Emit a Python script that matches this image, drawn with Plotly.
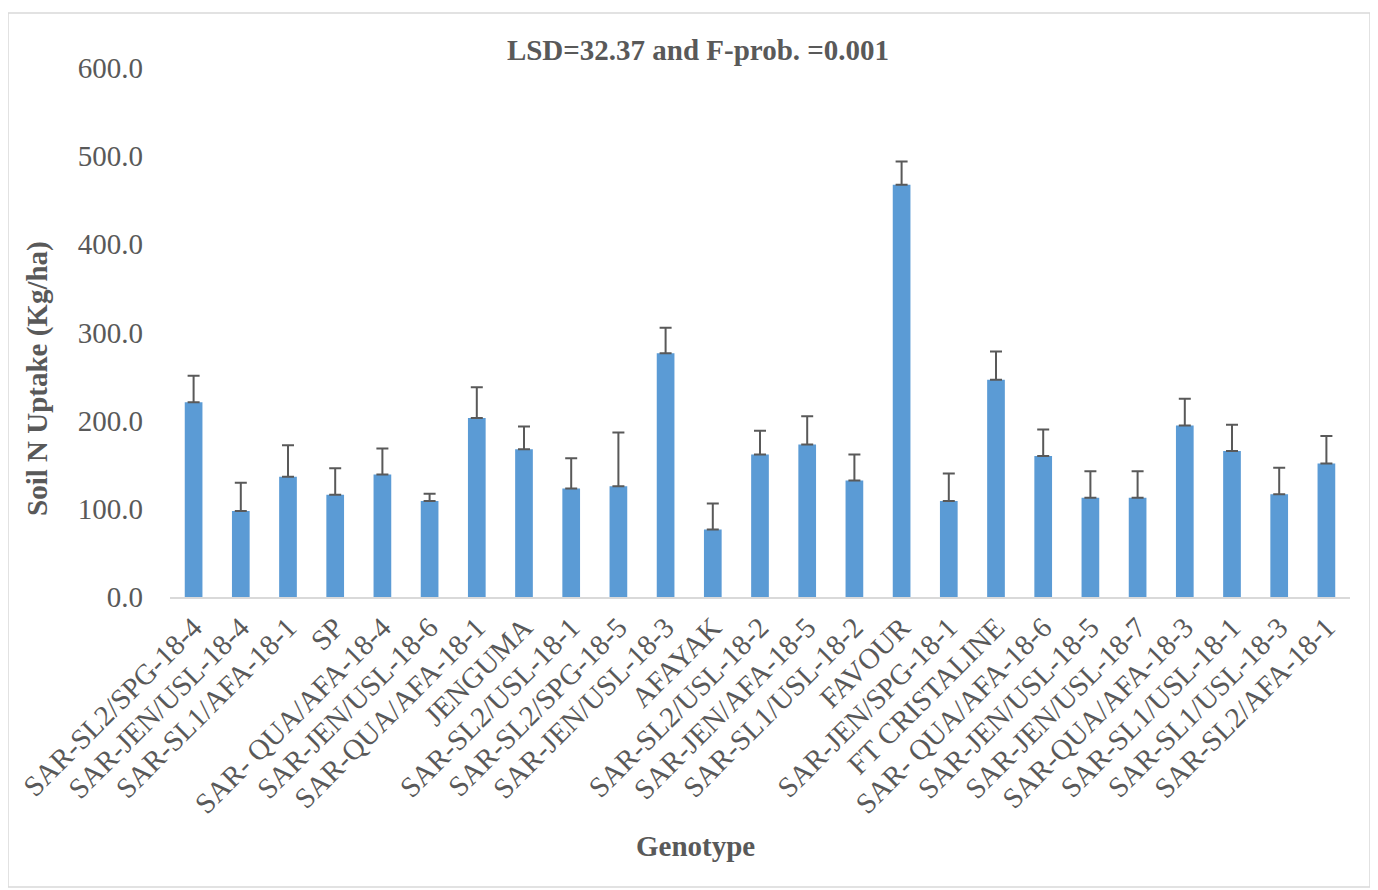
import plotly.graph_objects as go

genotypes = [
    "SAR-SL2/SPG-18-4", "SAR-JEN/USL-18-4", "SAR-SL1/AFA-18-1", "SP",
    "SAR- QUA/AFA-18-4", "SAR-JEN/USL-18-6", "SAR-QUA/AFA-18-1", "JENGUMA",
    "SAR-SL2/USL-18-1", "SAR-SL2/SPG-18-5", "SAR-JEN/USL-18-3", "AFAYAK",
    "SAR-SL2/USL-18-2", "SAR-JEN/AFA-18-5", "SAR-SL1/USL-18-2", "FAVOUR",
    "SAR-JEN/SPG-18-1", "FT CRISTALINE", "SAR- QUA/AFA-18-6", "SAR-JEN/USL-18-5",
    "SAR-JEN/USL-18-7", "SAR-QUA/AFA-18-3", "SAR-SL1/USL-18-1", "SAR-SL1/USL-18-3",
    "SAR-SL2/AFA-18-1",
]
n_uptake = [
    221.0, 97.5, 136.5, 116.0, 139.0, 109.0, 203.0, 167.5,
    123.0, 125.5, 276.5, 76.5, 161.5, 173.0, 132.0, 467.5,
    109.0, 246.5, 160.0, 112.5, 112.5, 194.5, 165.5, 116.5,
    151.5,
]
errors = [
    30.0, 32.0, 35.5, 30.0, 29.5, 8.0, 35.0, 26.0,
    34.5, 61.0, 29.0, 29.5, 27.0, 32.0, 29.5, 26.5,
    31.0, 32.0, 30.0, 30.0, 30.0, 30.5, 30.0, 30.0,
    31.0,
]
y_ticks = [0, 100, 200, 300, 400, 500, 600]

# page body has an 8px margin, so the figure is laid out 8px short
W, H = 1370, 882
ml, mr, mt, mb = 162, 28, 60, 293
pw = W - ml - mr
ph = H - mt - mb
FONT = "Liberation Serif, Times New Roman, serif"
GREY = "#595959"
FS = 29

fig = go.Figure(
    go.Bar(
        x=genotypes,
        y=n_uptake,
        marker=dict(color="#5B9BD5", line=dict(color="#5B9BD5", width=0)),
        error_y=dict(type="data", array=errors, symmetric=False,
                     arrayminus=[0] * len(errors),
                     color=GREY, thickness=2, width=6),
    )
)

fig.add_shape(type="rect", xref="paper", yref="paper",
              x0=(0 - ml) / pw, x1=(1362 - ml) / pw,
              y0=(H - mb - 879) / ph, y1=(H - mb - 5) / ph,
              line=dict(color="#D9D9D9", width=1.5), fillcolor="rgba(0,0,0,0)",
              layer="below")

# axis titles as annotations (placed off-centre like the reference)
fig.add_annotation(text="<b>Soil N Uptake (Kg/ha)</b>", xref="paper", yref="paper",
                   x=(29 - ml) / pw, y=(H - mb - 371) / ph,
                   xanchor="center", yanchor="middle", textangle=-90,
                   showarrow=False, font=dict(family=FONT, size=FS, color=GREY))
fig.add_annotation(text="<b>Genotype</b>", xref="paper", yref="paper",
                   x=(687 - ml) / pw, y=(H - mb - 838) / ph,
                   xanchor="center", yanchor="middle",
                   showarrow=False, font=dict(family=FONT, size=FS, color=GREY))

fig.update_layout(
    width=W, height=H,
    margin=dict(l=ml, r=mr, t=mt, b=mb, autoexpand=False),
    paper_bgcolor="white", plot_bgcolor="white",
    showlegend=False,
    bargap=0.625,
    title=dict(text="<b>LSD=32.37 and F-prob. =0.001</b>",
               x=690 / W, xanchor="center",
               y=1 - 42 / H, yanchor="middle",
               font=dict(family=FONT, size=FS, color=GREY)),
    font=dict(family=FONT, color=GREY),
)
fig.update_xaxes(
    tickangle=-45,
    tickfont=dict(family=FONT, size=FS, color=GREY),
    showline=True, linecolor="#D9D9D9", linewidth=2,
    showgrid=False, ticks="",
    automargin=False,
)
fig.update_yaxes(
    range=[0, 600], tickvals=y_ticks, tickformat=".1f",
    tickfont=dict(family=FONT, size=FS, color=GREY),
    showgrid=False, showline=False, zeroline=False, ticks="",
    ticklabelstandoff=26,
    automargin=False,
)

fig.write_html("out.html")
